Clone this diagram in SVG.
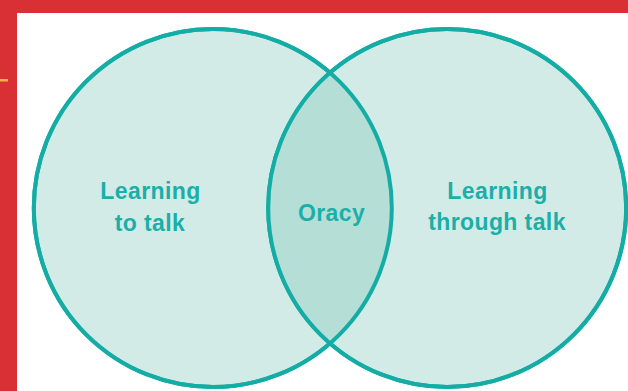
<svg xmlns="http://www.w3.org/2000/svg" width="628" height="391" viewBox="0 0 628 391">
  <style>
    .circle { fill: #D3EBE6; stroke: #14ADA6; stroke-width: 4; }
    .lens { fill: #B5DFD6; }
    .outline { fill: none; stroke: #14ADA6; stroke-width: 4; }
    .label { font-family: "Liberation Sans", Arial, sans-serif; font-size: 23px; font-weight: bold; fill: #1AAFA8; text-anchor: middle; letter-spacing: 0.4px; }
  </style>
  <defs>
    <clipPath id="clipLeft">
      <circle cx="212.8" cy="208" r="179"/>
    </clipPath>
  </defs>
  <rect x="0" y="0" width="628" height="391" fill="#FFFFFF"/>
  <rect x="0" y="0" width="628" height="13" fill="#D93036"/>
  <rect x="0" y="0" width="17" height="391" fill="#D93036"/>
  <rect x="0" y="79" width="8" height="2.5" fill="#F7B440"/>

  <g id="learning-to-talk">
    <circle class="circle" cx="212.8" cy="208" r="179"/>
    <text class="label" x="150.5" y="199">Learning</text>
    <text class="label" x="150" y="231">to talk</text>
  </g>
  <g id="learning-through-talk">
    <circle class="circle" cx="447.2" cy="208" r="179"/>
    <text class="label" x="497.5" y="199">Learning</text>
    <text class="label" x="497" y="230">through talk</text>
  </g>
  <g id="oracy">
    <circle class="lens" cx="447.2" cy="208" r="179" clip-path="url(#clipLeft)"/>
    <circle class="outline" cx="212.8" cy="208" r="179"/>
    <circle class="outline" cx="447.2" cy="208" r="179"/>
    <text class="label" x="331.5" y="221">Oracy</text>
  </g>
  <g id="connectors"></g>
</svg>
